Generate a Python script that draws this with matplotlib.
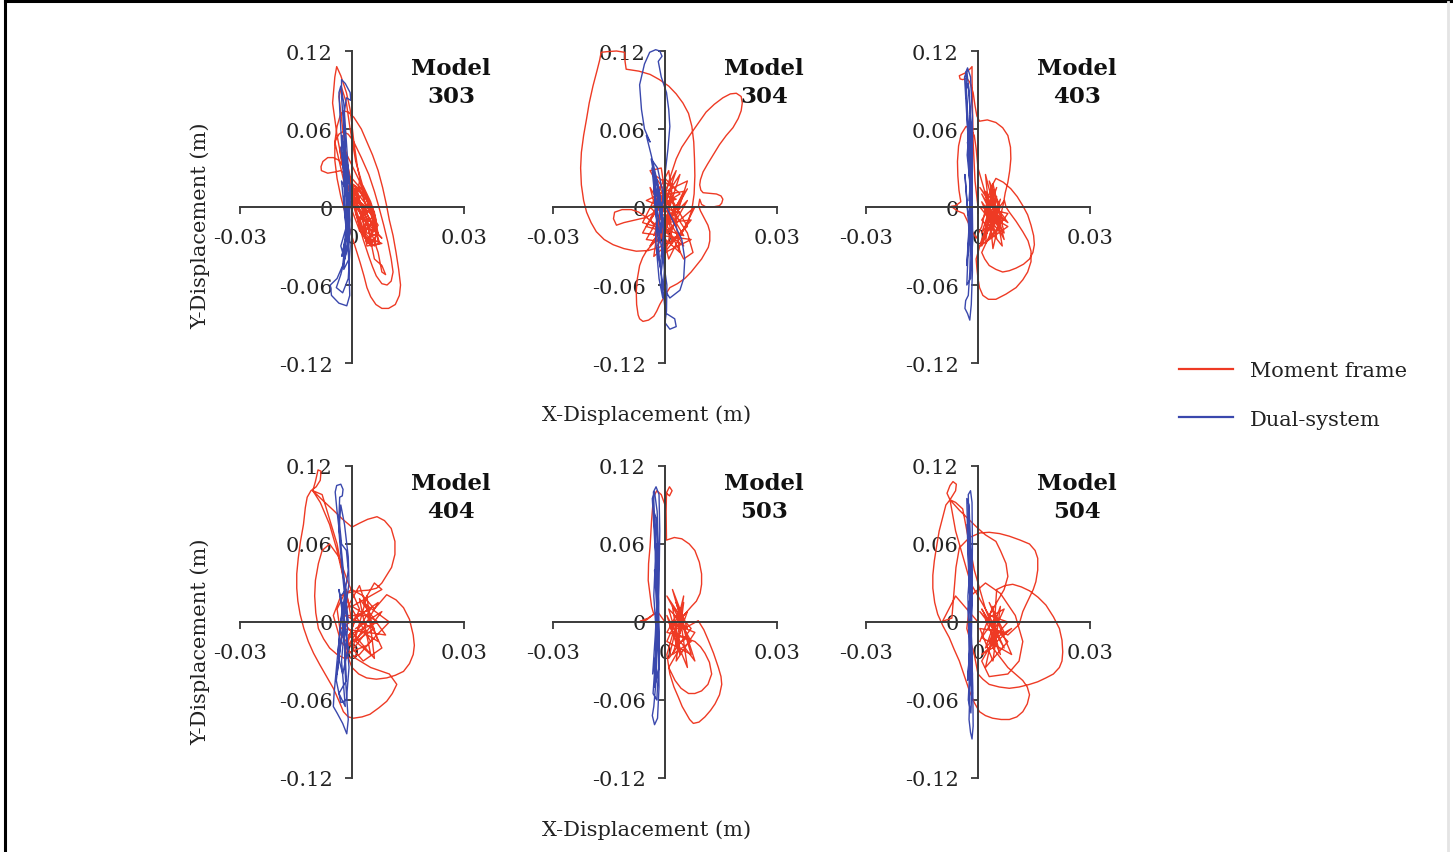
import numpy as np
import matplotlib.pyplot as plt
from matplotlib.lines import Line2D

plt.rcParams["font.family"] = "DejaVu Serif"

RED = "#ee3a24"
BLUE = "#3a48ad"

x_ticks = [-0.03, 0.0, 0.03]
x_tick_labels = ["-0.03", "0", "0.03"]
y_ticks = [-0.12, -0.06, 0.0, 0.06, 0.12]
y_tick_labels = ["-0.12", "-0.06", "0", "0.06", "0.12"]

models = ["303", "304", "403", "404", "503", "504"]
series_labels = ["Moment frame", "Dual-system"]

# roof displacement orbits, (x, y) in mm
mf_303 = [
    (0.5, 0), (-2, 25), (-4, 55), (-5.2, 80), (-4.6, 100), (-4.1, 108), (-3, 101), (-1.5, 88),
    (-0.5, 75), (0.5, 50), (1.5, 30), (3, 10), (4, -5), (2, 5), (-1, 25), (-3.5, 36), (-5, 38),
    (-6.5, 38), (-7.8, 35), (-8.3, 31), (-8.2, 28), (-6.5, 26), (-4.5, 27), (-3, 28), (0, 22),
    (3, 12), (5.5, -3), (7, -20), (5, -28), (2, -18), (-1, 5), (-3, 30), (-4.6, 50), (-4, 62),
    (-3.2, 70), (-2.3, 74), (-1, 73), (0.5, 69), (2.5, 60), (4, 50), (5.5, 40), (7, 28),
    (8.2, 15), (9.2, 2), (10, -10), (11, -22), (11.8, -35), (12.5, -48), (13, -60), (12.7, -68),
    (11.6, -75), (9.8, -78), (8, -78), (6.4, -75), (5, -69), (4, -62), (3.2, -53), (2.2, -43),
    (1, -32), (-0.3, -20), (-1.8, -5), (-3, 8), (-4, 22), (-4.6, 36), (-4.6, 50), (-3.5, 56),
    (-2.5, 58), (-1, 56), (0.5, 50), (2.5, 38), (4.5, 25), (6, 12), (7.2, 0), (8.5, -14),
    (9.6, -27), (10.5, -40), (11, -50), (10.5, -57), (9.4, -60), (8, -59), (6.5, -53),
    (5.5, -46), (4.5, -38), (3, -25), (1.5, -10), (0, 5), (-1.5, 20), (-2.8, 35), (-3.3, 45),
    (-2.5, 47), (-0.5, 35), (2, 20), (5, 0), (6, -15), (3, -5), (1, 15), (4, 5), (7, -22),
    (4, -20), (2, -2), (-1, 20), (3, 0), (6, -8), (5, -25), (2, -15), (0, 10), (5, -10),
    (7.5, -28), (4, -30), (3, -12), (1, 5), (-1, 30), (-2.5, 60), (-3.5, 85), (-2.8, 92),
    (-1.5, 80), (-0.5, 60), (1, 35), (3, 15), (5, -5), (6.5, -20), (6, -30), (3.5, -22), (2, -8),
    (4, -12), (6, -40), (8, -45), (9, -52), (8, -50), (7, -35), (5, -18), (2.5, 2), (0.5, 12),
    (0, 18), (3, 10), (1, 5), (5, -2), (2, -8), (6, -12), (3, -15), (7, -20), (4, -24),
    (8, -28), (5, -30), (2, -18), (6, -6), (1, 12), (-1, 20), (2, 14), (4, 0), (7, -14),
    (5, -22), (3, -6), (0, 8), (3, 2), (6, -18), (8, -24), (4, -12), (1, 0), (2, 20), (4, 8),
    (6, -4), (7, -26), (4, -28), (2, -10), (-0.5, 12), (3, 16), (5, 4), (6.5, -10), (3, -20),
    (1, -5),
]
ds_303 = [
    (-1, 0), (-1.5, 30), (-2.2, 60), (-2.8, 85), (-2.8, 98), (-1.8, 95), (-0.5, 88), (-0.3, 82),
    (-1.5, 84), (-2.2, 70), (-1.8, 40), (-1.2, 10), (-1.5, -20), (-2.5, -45), (-4, -55),
    (-5.8, -60), (-5.5, -68), (-3.5, -74), (-1.4, -76), (-0.6, -68), (-0.8, -50), (-1, -30),
    (-1.8, 0), (-2.5, 35), (-3.2, 70), (-3.5, 88), (-3, 93), (-2.2, 80), (-1.5, 50), (-0.8, 20),
    (-0.6, -10), (-1.5, -35), (-3, -52), (-4.2, -62), (-2.5, -66), (-1, -55), (-0.5, -30),
    (-1.2, -5), (-2, 25), (-3, 45), (-2.5, 50), (-1, 30), (-0.3, 5), (-1.5, -15), (-3, -30),
    (-2, -40), (-0.5, -20), (-1, 10), (-2.8, 20), (-1.8, -10), (-0.8, -40), (-2.2, -48),
    (-1.2, -5), (-0.5, 15), (-1.6, 35), (-2.6, 55), (-1.9, 30), (-0.9, 0), (-1.9, -25),
    (-2.7, -38), (-1.4, -20), (-2.2, 5), (-1.1, 25), (-2.3, 42), (-1.7, 10),
]

mf_304 = [
    (2, -25), (4.5, -20), (6.2, -11), (7.2, -2), (7.8, 10), (8, 24), (7.9, 37), (7.7, 50),
    (7.2, 62), (6.3, 72), (4.8, 80), (3, 87), (1, 93), (-1.5, 98), (-4, 102), (-7, 104.5),
    (-10.4, 106), (-10.7, 112), (-10.8, 119), (-13, 120), (-15.5, 119.5), (-17.1, 119),
    (-17.5, 113), (-18.2, 105), (-19.3, 93), (-20.3, 80), (-21, 68), (-21.8, 55), (-22.4, 42),
    (-22.6, 30), (-22.4, 17), (-21.8, 5), (-21, -4), (-19.8, -12), (-18.4, -19), (-16.3, -25),
    (-13.9, -29), (-11, -32), (-7.7, -34), (-4.5, -33.5), (-1.5, -31), (0.5, -27), (-4, -10),
    (2, 15), (-3, 25), (4, -5), (-5, 5), (6, 20), (0, -35), (7, -25), (-6, -20), (3, 28),
    (-2, -15), (0, 10), (1.5, 24), (3, 37), (4.5, 46), (6.6, 55), (8.8, 64), (11, 73),
    (13.2, 79), (15.5, 84), (17.5, 87), (19.1, 87.5), (20.4, 85), (20.7, 80), (20.4, 74),
    (19.6, 68), (18.2, 61), (16.4, 55), (14.6, 48), (12.9, 40), (11.4, 33), (10.2, 27),
    (9.5, 21), (9.3, 17), (9.6, 13), (10.2, 11), (12, 10.5), (13.8, 10), (15, 8.5), (15.5, 6),
    (15.2, 3), (14.6, 1), (12.8, 0), (11, 0), (9.8, 2), (9.3, 6), (9, 1), (9.5, -3),
    (10.6, -9), (11.5, -14), (12, -19), (12, -26), (11.6, -31), (11, -34), (9.8, -40),
    (8.4, -45), (7, -50), (5.3, -55), (3.3, -59), (1.3, -62), (0, -68), (-1.4, -75),
    (-2.2, -80), (-3, -84), (-4.4, -87), (-5.9, -88), (-6.8, -86), (-7.2, -83), (-7.6, -75),
    (-7.7, -65), (-7.4, -55), (-6.8, -45), (-6, -39), (-5, -34), (-3.5, -29), (-2, -25), (8, 0),
    (1, -40), (-4, 15), (5, -30), (-5, -8), (-8, -10), (-11, -12), (-13, -14), (-13.8, -9),
    (-13.5, -4), (-11.5, -2), (-9, -2), (-7, -4), (-5, -8), (2, 5), (6, -15), (-3, -38), (0, 22),
    (4, 10), (-2, 0), (5, -40), (7.5, -35), (6, -20), (1, 2), (-4, 28), (-1, 30), (2, -28),
    (-5, -25), (-1, -5), (3, -12), (-3, 8), (5, 12), (-2, -30), (4, 25), (-5, -15), (1, -20),
    (6, 5), (-3, -22), (2, 18), (-1, -38), (7, -10), (0, -12), (-4, 0), (3, 6), (-2, 12),
    (5, -22), (-6, -12), (1, 28), (4, -35), (-1, -22), (6, 14), (-4, -30), (2, -5),
]
ds_304 = [
    (-1, 0), (-2.5, 25), (-3.7, 40), (-5, 55), (-4, 50), (-5.5, 60), (-6.3, 75), (-6.8, 94),
    (-5.5, 110), (-4.1, 119), (-2.5, 121), (-1.4, 120), (-0.8, 116), (-1.8, 112), (-1, 100),
    (0.4, 88), (1, 75), (1.3, 62), (0.8, 45), (0, 25), (-0.5, 5), (2, -10), (4.5, -25),
    (5.3, -40), (5, -55), (4, -64), (1.3, -70), (-0.5, -62), (-1.5, -40), (-2, -20), (-2.8, 10),
    (-3.5, 30), (-2, 20), (-0.5, -10), (0, -40), (-0.5, -65), (0, -78), (0.4, -82), (2.6, -86),
    (3, -92), (1.3, -94), (0, -89), (0.4, -80), (0.5, -60), (-1, -30), (-2.5, -5), (-3, 15),
    (-1.5, 5), (0, -25), (-1, -50), (-2, -35), (-1, -10), (-2.8, 22), (-3.7, 37), (-2, 30),
    (-0.5, 10), (-1, -20), (-2.2, 0), (-3.2, 28), (-1.6, 12), (-0.3, -15), (-1.2, -45),
    (-0.6, -70), (-1.6, -55), (-2.5, -25), (-1.8, 15), (-0.8, -5),
]

mf_403 = [
    (0, 0), (-0.8, 20), (-1.3, 50), (-1.5, 80), (-1.6, 100), (-1.6, 108), (-2.2, 106),
    (-3.5, 103), (-5, 101), (-4.8, 98.5), (-4.1, 98), (-3, 99), (-2.2, 96), (-1.3, 88),
    (-0.8, 78), (-0.3, 70), (0.4, 66), (2.5, 67), (4.8, 65), (6.6, 61), (8, 55), (8.7, 46),
    (8.8, 37), (8.5, 28), (8, 19), (7.3, 11), (7, 6), (7.5, 0), (8.4, -4), (10.2, -11), (12, -19),
    (13.4, -26), (14.2, -34), (14.2, -42), (13.3, -50), (12, -56), (10.2, -62), (7.5, -67),
    (4.8, -71), (2.8, -71), (1.3, -68), (0.4, -62), (0, -55), (-0.3, -47), (-0.5, -40), (1, -25),
    (3, -10), (2, 10), (0, 30), (-0.5, 45), (-1, 55), (-2, 60), (-3.2, 62), (-4.5, 56),
    (-5.2, 47), (-5.5, 35), (-5.4, 24), (-5.1, 13), (-4.6, 4), (-6, 1), (-7.2, 0.5), (-5.5, -3),
    (-3.8, -5), (-2.3, -14), (-1.3, -20), (-0.5, -24), (1, -15), (2.5, 5), (3.5, 15),
    (4.8, 22), (6.8, 19), (8.8, 14), (10.5, 8), (12, 1), (13.3, -6), (14.2, -14), (14.9, -22),
    (15.1, -29), (14.7, -35), (13.8, -40), (12.2, -44), (10.2, -47), (8.4, -49), (6.6, -50),
    (4.8, -48), (3, -45), (1.8, -40), (1, -35), (5, -10), (1, 10), (7, -25), (3, 20), (6, 0),
    (0.5, -30), (8, -15), (2, -5), (5, 15), (1, -20), (7, 5), (4, -32), (2, 25), (6, -20),
    (0.5, 0), (8, -5), (3, -25), (5, 8), (1, -10), (6.5, -30), (4, 12), (2, -15), (7, -10),
    (0.5, 15), (5, -5), (3, 5), (6, -14), (2, -28), (4, 18), (7, -20), (1, 4), (5, -24),
    (3, -2), (8, -12), (2, 12), (4, -15), (6, 6), (1, -30), (3, -8),
]
ds_403 = [
    (-2, 0), (-2.5, 40), (-3, 80), (-3.2, 104), (-2.8, 107), (-2, 100), (-1.5, 70), (-1.5, 30),
    (-1.8, -10), (-2.2, -50), (-2.6, -68), (-3.3, -72), (-3.5, -78), (-2.8, -82), (-2.2, -87),
    (-1.8, -75), (-1.5, -50), (-1.6, -10), (-2.2, 30), (-3, 70), (-3.6, 100), (-3, 105),
    (-2.3, 85), (-1.8, 50), (-2, 10), (-2.6, -30), (-3, -60), (-2, -55), (-1.4, -25),
    (-1.6, 15), (-2.4, 55), (-3.2, 90), (-2.6, 95), (-1.8, 60), (-1.7, 20), (-2.3, -20),
    (-3, -45), (-2.5, -20), (-2, 20), (-2.8, 50), (-2.2, 20), (-1.6, -15), (-2.7, -5),
    (-3.5, 25), (-2, -35), (-1.5, 0), (-2.9, 40), (-2.1, 70), (-1.7, 35), (-2.4, 5),
]

mf_404 = [
    (0, 0), (-2, 30), (-4, 55), (-6, 75), (-8.5, 92), (-10.5, 101), (-9.8, 108), (-9.1, 117),
    (-8.3, 116), (-8.5, 109), (-9.6, 104), (-11, 101), (-12, 96), (-12.5, 88), (-13, 75),
    (-13.8, 62), (-14.4, 49), (-14.8, 37), (-14.8, 26), (-14.5, 16), (-13.9, 6), (-12.9, -5),
    (-11.7, -15), (-10.3, -24), (-8.6, -33), (-6.8, -42), (-5, -51), (-3.6, -60), (-2.3, -69),
    (-1, -73), (0.4, -74), (2.7, -73), (4.8, -71), (7.2, -66), (9.3, -61), (10.8, -55),
    (12, -48), (10, -40), (5, -35), (1, -28), (-3, -15), (-5, 5), (-3, 20), (0, 25), (3, 20),
    (6, 10), (7.8, 16), (9.3, 21), (11.8, 17), (13.8, 11), (15.4, 2), (16.4, -10), (16.7, -18),
    (16.4, -25), (15.4, -32), (13.8, -38), (11.6, -41), (9.3, -43), (6.5, -44), (3.9, -43),
    (1.8, -40), (0, -35), (-2, -20), (0, -5), (2, 10), (-1, 30), (-3.5, 50), (-6, 60),
    (-8, 55), (-9, 45), (-9.8, 32), (-10, 20), (-9.7, 7), (-9, -5), (-7.6, -13), (-6, -20),
    (-4, -25), (-2, -28), (0, -27), (2, -25), (5, -15), (2, 0), (-1, 15), (-4, 60), (-8, 98),
    (-10.5, 101), (-8, 94), (-5, 86), (-2.5, 79), (0, 73), (2, 76), (4.2, 79), (6.7, 81),
    (8.7, 78), (10.5, 72), (11.5, 62), (11.5, 52), (10.6, 42), (9.3, 36), (8, 30), (6.6, 26),
    (4.5, 24.5), (2.1, 24), (-2, 22), (-4, 10), (-3, -10), (3, -30), (8, -20), (4, 5), (-2, 5),
    (6, -5), (1, -15), (7, 15), (-3, -5), (9, -10), (2, 18), (5, -25), (-1, -10), (7, 0),
    (0, 12), (8, 25), (6, 30), (3, 15), (10, 0), (4, -18), (-2, -25), (1, 5), (5, 10),
    (-1, -18), (3, -8), (7, -15), (2, 28), (-3, 2), (6, -28), (4, 20), (0, -22), (8, 8),
    (1, -5),
]
ds_404 = [
    (-1, 0), (-2, 30), (-3, 60), (-4, 85), (-4.5, 100), (-4.1, 105), (-3, 106), (-2.4, 102),
    (-2.6, 97), (-3.3, 96), (-3.5, 80), (-2.8, 60), (-1.5, 55), (-1, 40), (-2, 20), (-3, 0),
    (-4, -30), (-4.8, -55), (-5, -65), (-4, -70), (-2.5, -78), (-1.4, -86), (-1, -75),
    (-1.5, -55), (-2, -30), (-1.2, -5), (-1.8, 15), (-2.8, 45), (-3.5, 70), (-3, 90), (-2, 75),
    (-1, 50), (-0.8, 30), (-2, 5), (-3.2, -20), (-4.2, -45), (-3, -62), (-1.5, -60),
    (-0.8, -35), (-1.5, -10), (-2.5, 10), (-3.5, 25), (-2.2, 0), (-1, -20), (-2.5, -40),
    (-3.8, -25), (-2.5, 15), (-1.5, -45), (-3.5, -55), (-1.8, -65), (-2.8, -30), (-1.9, 0),
    (-3, 20), (-1.6, 25), (-2.7, -10), (-4, -40),
]

mf_503 = [
    (0, 0), (-2, 8), (-4.5, 3), (-7.1, 0), (-5, 1.5), (-3, 6), (-3.6, 12), (-4.5, 32),
    (-4.4, 45), (-4, 58), (-3.6, 78), (-3.1, 96), (-2.2, 101), (-1, 98), (0, 90), (0.5, 100),
    (1.2, 104), (1.9, 101), (1.2, 97), (0.4, 99), (0.3, 85), (0.4, 63), (2.5, 65), (4.5, 64),
    (6.5, 60), (8, 55), (9.2, 46), (9.8, 37), (9.8, 29), (9.4, 22), (8.4, 16), (7.1, 12), (5, 5),
    (3, -5), (5, -5), (7, -2), (8.9, 1), (10.4, -6), (11.6, -14), (13, -24), (14.3, -35),
    (15, -42), (15.2, -48), (14.6, -56), (13.4, -63), (12.2, -68), (10.7, -73), (9.1, -77),
    (7.6, -78), (6.6, -75), (5.8, -71), (4.6, -65), (3.6, -58), (2.4, -50), (1.3, -40),
    (0.5, -25), (2, -10), (5, -12), (8, -15), (9.5, -19), (10.7, -24), (11.9, -31), (12.5, -40),
    (11.5, -48), (9.8, -53), (8, -55), (6.3, -55), (4.3, -51), (2.7, -45), (1, -35), (4, -20),
    (1, 10), (6, -5), (2, 25), (7, -25), (0.5, -15), (5, 15), (3, -30), (8, -8), (1, 0),
    (6, -35), (4, 5), (0.5, 20), (7, -15), (2, -25), (5, 0), (3, 15), (8, -30), (1.5, -5),
    (6, 8), (3.5, -12), (0.5, 5), (4, -25), (2, 12), (7, -5), (1, -28), (5, 20), (3, -18),
    (6, -12), (0.5, -8), (4, 10),
]
ds_503 = [
    (-2, 0), (-2.3, 40), (-2.8, 80), (-3.1, 100), (-2.4, 104), (-1.6, 98), (-1.4, 70),
    (-1.6, 30), (-2, -10), (-2.4, -45), (-3, -65), (-3.4, -72), (-2.8, -79), (-2, -74),
    (-1.6, -50), (-1.7, -10), (-2.2, 30), (-2.9, 70), (-3.4, 95), (-2.8, 100), (-2.1, 85),
    (-1.7, 50), (-2, 10), (-2.6, -30), (-3.2, -55), (-2.2, -60), (-1.5, -25), (-1.7, 15),
    (-2.5, 55), (-3, 85), (-2.4, 80), (-1.9, 45), (-1.8, 5), (-2.4, -25), (-3.3, -40),
    (-2.6, -10), (-2, 25), (-2.8, 40), (-2.1, 5), (-1.6, -35), (-2.8, -50), (-2.2, -15),
    (-3, 20), (-2.4, 60), (-1.8, 20),
]

mf_504 = [
    (0, 0), (-3, 10), (-6, 20), (-9.5, 0.5), (-7, 3), (-5.9, 42), (-5, 57), (-2.3, 65),
    (0.5, 68.5), (3, 69), (5.8, 68), (8.4, 66), (11.3, 63), (13.8, 60), (15.3, 55), (16, 49),
    (16, 40), (15.5, 31), (14.8, 25), (13.8, 19), (12.8, 13), (12, 8), (11.5, 3), (11, -2),
    (8, -10), (4, -5), (2, 10), (-1, 40), (-4.1, 87), (-6, 92), (-7.5, 94), (-8.3, 99),
    (-7.5, 105), (-6.7, 108), (-5.8, 106), (-6, 101), (-7.5, 94), (-5, 86), (-2.5, 79),
    (0, 72), (2, 67), (4.8, 62), (6, 55), (7.5, 45), (8, 35), (7, 25), (6, 20), (3, 5), (-2, 30),
    (-6, 70), (-7.5, 94), (-8.6, 90), (-9.5, 80), (-10.4, 70), (-11.1, 58), (-11.7, 47),
    (-12.1, 36), (-12.1, 26), (-11.6, 15), (-10.8, 6), (-9.4, -3), (-7.7, -12), (-6.4, -21),
    (-5, -30), (-3.6, -42), (-2.3, -53), (-1, -62), (0.4, -69), (2, -72), (3.9, -74),
    (6.2, -75), (8.4, -75), (10.4, -73), (12, -69), (13.2, -63), (13.8, -56), (13.2, -50),
    (12, -45), (8, -35), (4, -20), (5, 25), (7.2, 28), (9.3, 29), (11.6, 27), (13.8, 24),
    (16.1, 19), (18.2, 13), (20.2, 4), (21.8, -5), (22.5, -14), (22.7, -23), (22.5, -30),
    (21.8, -35), (20.2, -40), (18.2, -43), (16, -46), (13.8, -48), (11, -50), (8.4, -51),
    (5.7, -50), (3, -48), (1.3, -44), (0, -40), (-1, -25), (-3, -5), (-2, 20), (2, 30), (6, 22),
    (10, 5), (12, -15), (11, -30), (8, -40), (3, -42), (1, -30), (5, -10), (1, 10), (7, -20),
    (3, 5), (8, 0), (2, -20), (6, 12), (4, -30), (0.5, -5), (7, -8), (3, 15), (9, -25),
    (1, -12), (5, 5), (2, -35), (8, -15), (0.5, 8), (4, -5), (6, -25), (2, 2), (7, 10),
    (3, -15), (9, -5), (1, -25), (5, -18), (4, 12), (0.5, -15),
]
ds_504 = [
    (-2, 0), (-2.2, 40), (-2.5, 80), (-2.6, 98), (-2, 101), (-1.6, 92), (-1.5, 60), (-1.6, 20),
    (-1.8, -20), (-2.2, -55), (-2.4, -75), (-2, -85), (-1.6, -90), (-1.3, -80), (-1.4, -50),
    (-1.8, -10), (-2.3, 30), (-2.8, 70), (-3, 95), (-2.4, 90), (-1.9, 55), (-1.7, 15),
    (-2.1, -30), (-2.6, -60), (-1.9, -70), (-1.5, -40), (-1.9, 0), (-2.6, 45), (-2.9, 75),
    (-2.2, 65), (-1.6, 30), (-2, -15), (-2.8, -45), (-2.2, -20), (-1.8, 25), (-2.6, 10),
    (-1.5, -55), (-2.3, -35), (-2.7, 20), (-1.9, 50),
]

panels = [
    (mf_303, ds_303), (mf_304, ds_304), (mf_403, ds_403),
    (mf_404, ds_404), (mf_503, ds_503), (mf_504, ds_504),
]

W, H = 1453, 853
fig = plt.figure(figsize=(W / 100, H / 100), dpi=100)

col_left = [240, 553, 866]
row_top = [52, 467]
ax_w, ax_h = 224, 312


def setup_axes(ax):
    ax.set_xlim(-0.03, 0.03)
    ax.set_ylim(-0.12, 0.12)
    ax.spines["left"].set_position("zero")
    ax.spines["bottom"].set_position("zero")
    ax.spines["right"].set_visible(False)
    ax.spines["top"].set_visible(False)
    for s in ("left", "bottom"):
        ax.spines[s].set_color("#3a3a3a")
        ax.spines[s].set_linewidth(1.4)
    ax.set_xticks(x_ticks)
    ax.set_xticklabels(x_tick_labels)
    ax.set_yticks(y_ticks)
    ax.set_yticklabels(y_tick_labels)
    ax.tick_params(axis="x", direction="out", length=5, width=1.3, pad=10,
                   labelsize=15, color="#3a3a3a", labelcolor="#222222")
    ax.tick_params(axis="y", direction="out", length=5, width=1.3, pad=9,
                   labelsize=15, color="#3a3a3a", labelcolor="#222222")
    ax.patch.set_alpha(0)


for i, (mf, ds) in enumerate(panels):
    r, c = divmod(i, 3)
    left = col_left[c] / W
    bottom = 1 - (row_top[r] + ax_h) / H
    ax = fig.add_axes([left, bottom, ax_w / W, ax_h / H])
    setup_axes(ax)
    mf = np.array(mf) / 1000.0
    ds = np.array(ds) / 1000.0
    ax.plot(mf[:, 0], mf[:, 1], color=RED, lw=1.0, clip_on=False,
            solid_joinstyle="round")
    ax.plot(ds[:, 0], ds[:, 1], color=BLUE, lw=1.0, clip_on=False,
            solid_joinstyle="round")
    ax.text(0.942, 0.902, "Model\n" + models[i], transform=ax.transAxes,
            ha="center", va="center", fontsize=16.5, fontweight="bold",
            linespacing=1.35, color="#111111")

for yc in (226, 642):
    fig.text(200 / W, 1 - yc / H, "Y-Displacement (m)", rotation=90,
             ha="center", va="center", fontsize=15, color="#222222")
for yc in (415, 830):
    fig.text(647 / W, 1 - yc / H, "X-Displacement (m)",
             ha="center", va="center", fontsize=15, color="#222222")

handles = [Line2D([], [], color=RED, lw=1.6), Line2D([], [], color=BLUE, lw=1.6)]
fig.legend(handles, series_labels, loc="center left",
           bbox_to_anchor=(1179 / W, 1 - 396 / H), frameon=False, fontsize=15,
           handlelength=2.6, handletextpad=0.8, labelspacing=1.4,
           borderpad=0, borderaxespad=0, labelcolor="#222222")

# page frame
fig.add_artist(Line2D([5 / W, 1], [1 - 2 / H, 1 - 2 / H], color="black", lw=2.2,
                      transform=fig.transFigure))
fig.add_artist(Line2D([5 / W, 5 / W], [0, 1 - 2 / H], color="black", lw=2.2,
                      transform=fig.transFigure))
fig.add_artist(Line2D([1448 / W, 1448 / W], [0, 1 - 3 / H], color="#e4e4e4", lw=2,
                      transform=fig.transFigure))

fig.savefig("out.png", dpi=100)
